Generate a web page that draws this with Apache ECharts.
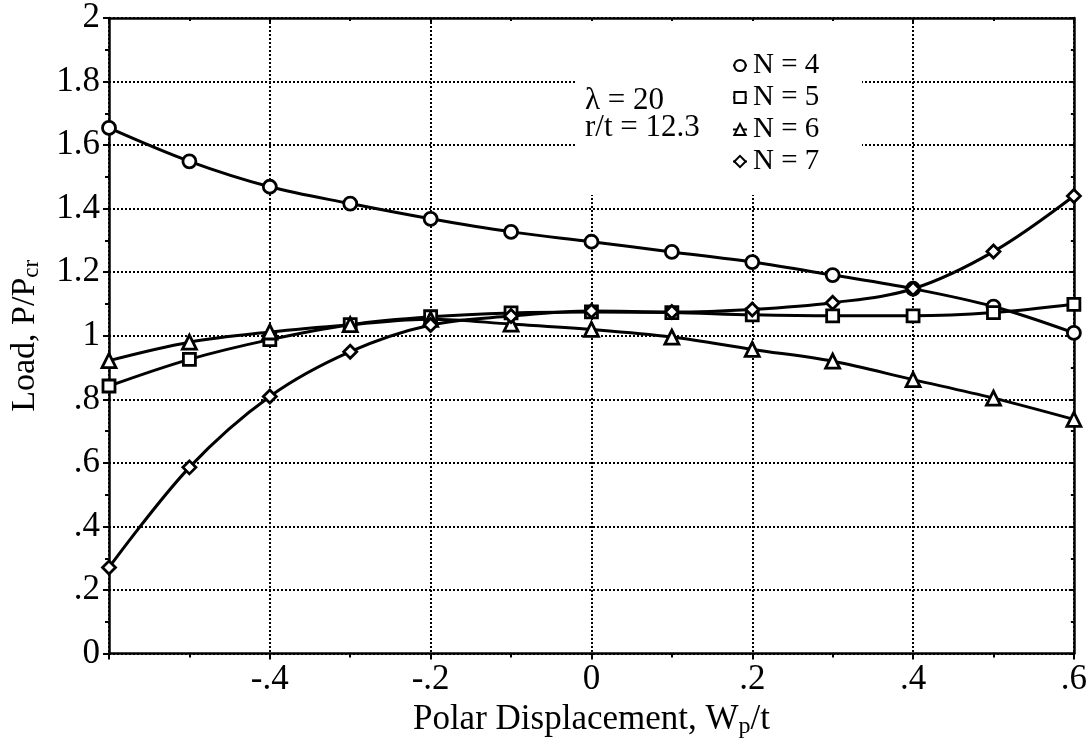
<!DOCTYPE html>
<html>
<head>
<meta charset="utf-8">
<script src="https://cdn.jsdelivr.net/npm/echarts@6/dist/echarts.min.js"></script>
<style>
  html, body { margin: 0; padding: 0; background: #fff; }
  #chart { width: 1090px; height: 744px; }
</style>
</head>
<body>
<div id="chart"></div>
<script>
// data
const xValues = [-0.6, -0.5, -0.4, -0.3, -0.2, -0.1, 0, 0.1, 0.2, 0.3, 0.4, 0.5, 0.6]
const loadN4 = [1.654, 1.549, 1.469, 1.416, 1.368, 1.327, 1.296, 1.264, 1.232, 1.191, 1.148, 1.092, 1.009]
const loadN5 = [0.842, 0.926, 0.988, 1.035, 1.060, 1.072, 1.075, 1.073, 1.066, 1.063, 1.063, 1.073, 1.099]
const loadN6 = [0.922, 0.980, 1.012, 1.035, 1.052, 1.037, 1.020, 0.996, 0.957, 0.920, 0.862, 0.804, 0.737]
const loadN7 = [0.271, 0.586, 0.809, 0.950, 1.034, 1.062, 1.078, 1.075, 1.083, 1.104, 1.148, 1.265, 1.440]
const seriesNames = ['N = 4', 'N = 5', 'N = 6', 'N = 7']
const seriesSymbols = ['circle', 'rect', 'triangle', 'diamond']
const seriesSizes = [13, 12, 14, 13]
const seriesValues = [loadN4, loadN5, loadN6, loadN7]
const noteLines = ['λ = 20', 'r/t = 12.3']

const FONT = '"Liberation Serif", "DejaVu Serif", serif'

// strip the leading zero like the original (.2, -.4)
const tickFmt = function (v) {
  let s = String(+(+v).toFixed(1))
  return s.replace(/^(-?)0\./, '$1.')
}

let myChart = echarts.init(document.getElementById('chart'))

const gridLine = {
  show: true,
  lineStyle: { color: '#000', width: 2, type: [2, 2] }
}

const option = {
  backgroundColor: '#fff',
  animation: false,
  grid: { left: 101, right: 14, top: 18, bottom: 78 },
  xAxis: [
    {
      type: 'value',
      min: -0.6,
      max: 0.6,
      interval: 0.2,
      name: 'Polar Displacement, W{sub|p}/t',
      nameLocation: 'middle',
      nameGap: 41,
      nameTextStyle: {
        fontFamily: FONT, fontSize: 35, color: '#000',
        rich: { sub: { fontFamily: FONT, fontSize: 24, verticalAlign: 'bottom', padding: [14, 0, 0, 0] } }
      },
      axisLine: { show: true, onZero: false, lineStyle: { color: '#000', width: 2.5 } },
      axisTick: { show: true, length: 6, lineStyle: { color: '#000', width: 2 } },
      minorTick: { show: true, splitNumber: 2, length: 4, lineStyle: { color: '#000', width: 2 } },
      axisLabel: {
        fontFamily: FONT, fontSize: 35, color: '#000', margin: 9,
        formatter: v => (Math.abs(v + 0.6) < 1e-6 ? '' : tickFmt(v))
      },
      splitLine: gridLine
    },
    {
      type: 'value',
      position: 'top',
      min: -0.6,
      max: 0.6,
      interval: 0.2,
      axisLine: { show: true, onZero: false, lineStyle: { color: '#000', width: 2.5 } },
      axisTick: { show: true, inside: true, length: 5, lineStyle: { color: '#000', width: 2 } },
      minorTick: { show: true, splitNumber: 2, length: 3, lineStyle: { color: '#000', width: 2 } },
      axisLabel: { show: false },
      splitLine: { show: false }
    }
  ],
  yAxis: [
    {
      type: 'value',
      min: 0,
      max: 2,
      interval: 0.2,
      name: 'Load, P/P{sub|cr}',
      nameLocation: 'middle',
      nameGap: 66,
      nameTextStyle: {
        fontFamily: FONT, fontSize: 34, color: '#000',
        rich: { sub: { fontFamily: FONT, fontSize: 23, verticalAlign: 'bottom', padding: [13, 0, 0, 0] } }
      },
      axisLine: { show: true, onZero: false, lineStyle: { color: '#000', width: 2.5 } },
      axisTick: { show: true, length: 6, lineStyle: { color: '#000', width: 2 } },
      minorTick: { show: true, splitNumber: 2, length: 4, lineStyle: { color: '#000', width: 2 } },
      axisLabel: {
        fontFamily: FONT, fontSize: 35, color: '#000', margin: 9,
        formatter: tickFmt
      },
      splitLine: gridLine
    },
    {
      type: 'value',
      position: 'right',
      min: 0,
      max: 2,
      interval: 0.2,
      axisLine: { show: true, onZero: false, lineStyle: { color: '#000', width: 2.5 } },
      axisTick: { show: true, inside: true, length: 5, lineStyle: { color: '#000', width: 2 } },
      minorTick: { show: true, splitNumber: 2, length: 3, lineStyle: { color: '#000', width: 2 } },
      axisLabel: { show: false },
      splitLine: { show: false }
    }
  ],
  legend: {
    orient: 'vertical',
    left: 727,
    top: 46,
    itemWidth: 14,
    itemHeight: 14,
    itemGap: 3,
    backgroundColor: 'transparent',
    textStyle: { fontFamily: FONT, fontSize: 29, color: '#000', padding: [0, 0, 0, 1] },
    data: seriesNames.map(n => ({ name: n }))
  },
  graphic: [
    // white patch behind the notes and legend, as in the original
    {
      type: 'rect',
      z: 1,
      shape: { x: 575, y: 21, width: 287, height: 174 },
      style: { fill: '#fff' }
    },
    {
      type: 'text',
      z: 3,
      left: 585,
      top: 85,
      style: {
        text: noteLines.join('\n'),
        fontFamily: FONT,
        fontSize: 31,
        lineHeight: 27,
        fill: '#000'
      }
    }
  ],
  series: seriesValues.map((vals, i) => ({
    name: seriesNames[i],
    type: 'line',
    smooth: 0.35,
    data: vals.map((v, j) => [xValues[j], v]),
    symbol: seriesSymbols[i],
    symbolSize: seriesSizes[i],
    lineStyle: { color: '#000', width: 3 },
    itemStyle: { color: '#fff', borderColor: '#000', borderWidth: 2.8 },
    z: 3
  }))
}

myChart.setOption(option)
</script>
</body>
</html>
